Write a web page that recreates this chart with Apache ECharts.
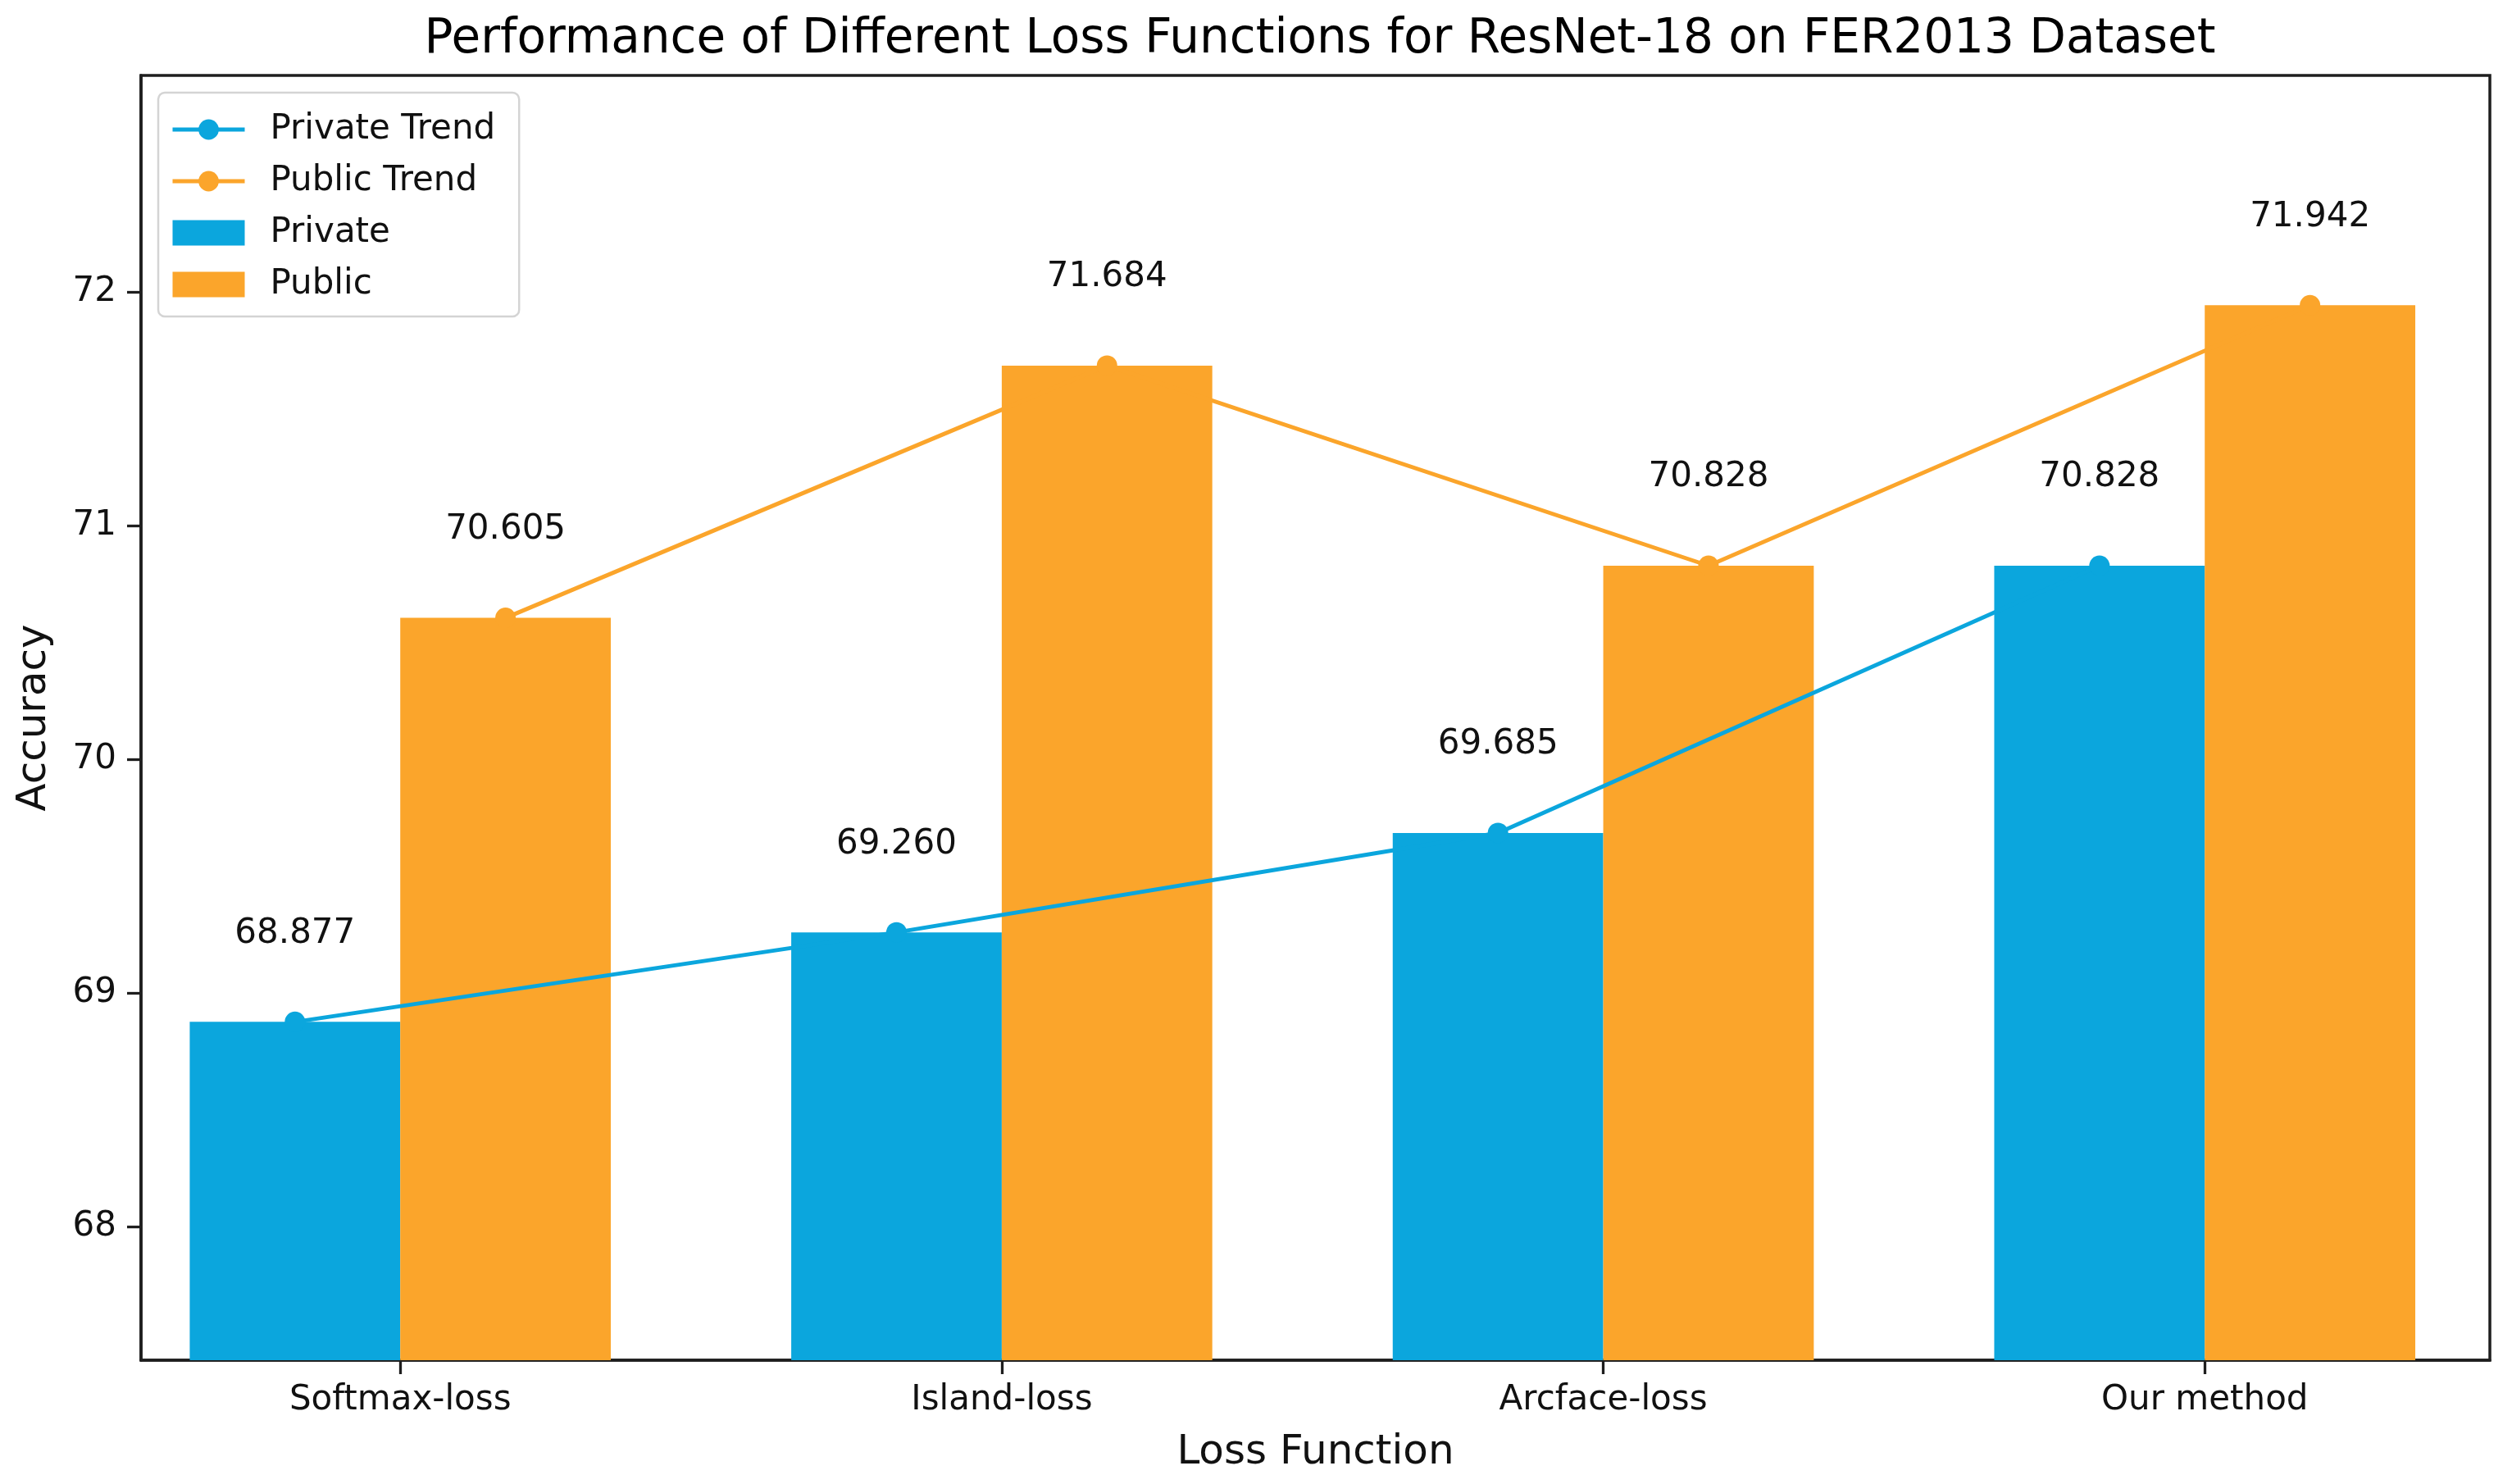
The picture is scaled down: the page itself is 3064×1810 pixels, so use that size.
<!DOCTYPE html>
<html>
<head>
<meta charset="utf-8">
<script src="https://cdn.jsdelivr.net/npm/echarts@6/dist/echarts.min.js"></script>
<style>
html,body{margin:0;padding:0;background:#fff;}
#chart{width:3064px;height:1810px;}
</style>
</head>
<body>
<div id="chart"></div>
<script>
const categories = ['Softmax-loss', 'Island-loss', 'Arcface-loss', 'Our method'];
const privateAcc = [68.877, 69.260, 69.685, 70.828];
const publicAcc = [70.605, 71.684, 70.828, 71.942];
const yTicks = [68, 69, 70, 71, 72];

const BLUE = '#0ba6dd';
const ORANGE = '#fba52b';
const FONT = 'DejaVu Sans';
const BAR_FRAC = 0.35;

const catIdx = categories.map((c, i) => i);
const privBars = privateAcc.map((v, i) => [i, v]);
const pubBars = publicAcc.map((v, i) => [i, v]);
const privLine = privateAcc.map((v, i) => [i - BAR_FRAC / 2, v]);
const pubLine = publicAcc.map((v, i) => [i + BAR_FRAC / 2, v]);

const chart = echarts.init(document.getElementById('chart'), null, {renderer: 'canvas'});

const lineLabel = {
  show: true,
  position: 'top',
  distance: 74,
  fontFamily: FONT,
  fontSize: 42,
  color: '#111',
  formatter: p => p.value[1].toFixed(3)
};

chart.setOption({
  animation: false,
  backgroundColor: '#fff',
  title: {
    text: 'Performance of Different Loss Functions for ResNet-18 on FER2013 Dataset',
    left: 1605,
    top: 15,
    textAlign: 'center',
    textStyle: {fontFamily: FONT, fontSize: 58, fontWeight: 'normal', color: '#000'}
  },
  grid: {
    left: 172, right: 27, top: 92, bottom: 151,
    show: true, borderColor: '#1e1e1e', borderWidth: 3.5, backgroundColor: 'transparent'
  },
  legend: {
    left: 193, top: 113,
    orient: 'vertical',
    padding: [24, 29, 18, 15],
    itemWidth: 88, itemHeight: 31, itemGap: 21,
    backgroundColor: 'rgba(255,255,255,0.85)',
    borderColor: '#d4d4d4', borderWidth: 2.5, borderRadius: 8,
    lineStyle: {width: 5},
    textStyle: {fontFamily: FONT, fontSize: 42, color: '#111', lineHeight: 42, padding: [0, 0, 0, 26]},
    data: [
      {name: 'Private Trend'},
      {name: 'Public Trend'},
      {name: 'Private', icon: 'rect'},
      {name: 'Public', icon: 'rect'}
    ]
  },
  xAxis: {
    type: 'value',
    min: -0.431, max: 3.474,
    name: 'Loss Function',
    nameLocation: 'middle',
    nameGap: 88,
    nameTextStyle: {fontFamily: FONT, fontSize: 50, color: '#111'},
    axisLine: {show: true, onZero: false, lineStyle: {color: '#1e1e1e', width: 3.5}},
    axisTick: {show: true, length: 17, lineStyle: {color: '#1e1e1e', width: 3.3}, customValues: catIdx},
    axisLabel: {
      show: true, margin: 28, fontFamily: FONT, fontSize: 42, color: '#111',
      customValues: catIdx,
      formatter: v => categories[Math.round(v)] || ''
    },
    splitLine: {show: false}
  },
  yAxis: {
    type: 'value',
    min: 67.43, max: 72.925,
    name: 'Accuracy',
    nameLocation: 'middle',
    nameGap: 105,
    nameTextStyle: {fontFamily: FONT, fontSize: 50, color: '#111'},
    axisLine: {show: true, onZero: false, lineStyle: {color: '#1e1e1e', width: 3.5}},
    axisTick: {show: true, length: 17, lineStyle: {color: '#1e1e1e', width: 3.3}, customValues: yTicks},
    axisLabel: {show: true, margin: 30, fontFamily: FONT, fontSize: 42, color: '#111', customValues: yTicks},
    splitLine: {show: false}
  },
  series: [
    {
      name: 'Private', type: 'bar', data: privBars,
      barWidth: (BAR_FRAC * 100) + '%', barGap: '0%',
      itemStyle: {color: BLUE}, z: 2
    },
    {
      name: 'Public', type: 'bar', data: pubBars,
      barWidth: (BAR_FRAC * 100) + '%', barGap: '0%',
      itemStyle: {color: ORANGE}, z: 2
    },
    {
      name: 'Private Trend', type: 'line', data: privLine,
      symbol: 'circle', symbolSize: 25,
      lineStyle: {color: BLUE, width: 5}, itemStyle: {color: BLUE},
      label: lineLabel, z: 5
    },
    {
      name: 'Public Trend', type: 'line', data: pubLine,
      symbol: 'circle', symbolSize: 25,
      lineStyle: {color: ORANGE, width: 5}, itemStyle: {color: ORANGE},
      label: lineLabel, z: 5
    }
  ]
});
</script>
</body>
</html>
